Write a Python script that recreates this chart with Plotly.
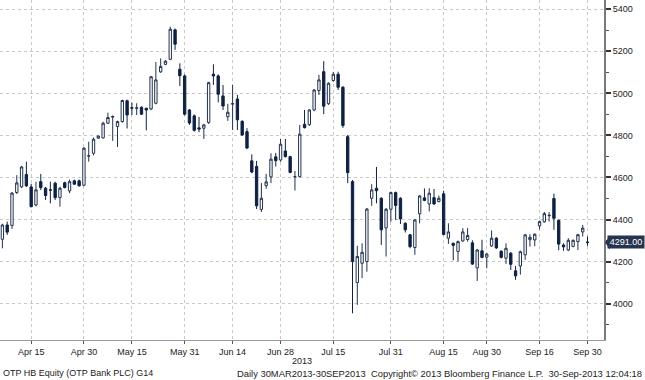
import pandas as pd
import plotly.graph_objects as go

# Trading calendar (Budapest): business days minus exchange holidays
start_date = "2013-04-05"
end_date = "2013-09-30"
holidays = ["2013-05-01", "2013-05-20", "2013-08-19", "2013-08-20"]
dates = [d.strftime("%Y-%m-%d") for d in pd.bdate_range(start_date, end_date)
         if d.strftime("%Y-%m-%d") not in holidays]

opens = [4306, 4374, 4372, 4528, 4555, 4614, 4555, 4469, 4580, 4549,
         4541, 4573, 4504, 4575, 4536, 4584, 4584, 4563, 4702, 4715,
         4787, 4788, 4858, 4887, 4842, 4866, 4965, 4932, 4929, 4934,
         4929, 4926, 4953, 5102, 5138, 5162, 5302, 5115, 5083, 4921,
         4893, 4836, 4834, 4861, 5091, 5083, 4988, 4889, 4949, 4973,
         4867, 4818, 4679, 4652, 4448, 4561, 4603, 4698, 4683, 4726,
         4699, 4603, 4604, 4853, 4851, 4921, 5013, 5103, 4951, 5061,
         5091, 5029, 4794, 4580, 4100, 4192, 4200, 4501, 4549, 4501,
         4360, 4449, 4528, 4501, 4382, 4327, 4267, 4427, 4503, 4474,
         4504, 4485, 4522, 4311, 4287, 4248, 4298, 4305, 4289, 4170,
         4251, 4221, 4274, 4311, 4249, 4216, 4240, 4156, 4179, 4232,
         4304, 4303, 4370, 4389, 4418, 4500, 4396, 4279, 4255, 4272,
         4295, 4341, 4293]
highs = [4380, 4390, 4530, 4611, 4655, 4675, 4570, 4579, 4617, 4555,
         4580, 4580, 4556, 4580, 4590, 4590, 4590, 4745, 4770, 4790,
         4800, 4865, 4908, 4895, 4870, 4970, 4970, 4956, 4953, 4938,
         4932, 5083, 5149, 5166, 5158, 5317, 5308, 5143, 5090, 4925,
         4900, 4888, 4855, 5055, 5138, 5090, 5040, 4950, 5040, 4993,
         4872, 4834, 4710, 4679, 4574, 4617, 4715, 4717, 4783, 4783,
         4703, 4631, 4850, 4921, 4925, 5020, 5088, 5153, 5052, 5102,
         5103, 5035, 4802, 4588, 4275, 4287, 4455, 4568, 4650, 4506,
         4455, 4533, 4533, 4506, 4387, 4332, 4402, 4517, 4548, 4549,
         4545, 4514, 4537, 4382, 4290, 4300, 4359, 4359, 4301, 4260,
         4304, 4240, 4348, 4316, 4254, 4287, 4245, 4179, 4252, 4332,
         4330, 4334, 4395, 4436, 4435, 4523, 4400, 4287, 4311, 4305,
         4332, 4374, 4319]
lows = [4263, 4327, 4355, 4522, 4550, 4555, 4458, 4462, 4540, 4493,
        4477, 4493, 4461, 4548, 4525, 4565, 4558, 4558, 4675, 4705,
        4783, 4785, 4855, 4774, 4745, 4860, 4833, 4897, 4897, 4897,
        4824, 4920, 4948, 5098, 5134, 5158, 5207, 5035, 4895, 4850,
        4818, 4815, 4783, 4855, 5040, 4957, 4921, 4869, 4826, 4826,
        4798, 4735, 4620, 4450, 4436, 4546, 4573, 4652, 4675, 4695,
        4620, 4538, 4600, 4833, 4845, 4915, 4992, 4901, 4945, 5055,
        5016, 4836, 4573, 3954, 3994, 4121, 4152, 4465, 4477, 4279,
        4224, 4389, 4398, 4379, 4338, 4263, 4232, 4382, 4487, 4438,
        4470, 4482, 4325, 4284, 4206, 4201, 4294, 4295, 4184, 4108,
        4216, 4168, 4270, 4260, 4215, 4189, 4160, 4113, 4138, 4208,
        4271, 4273, 4352, 4385, 4390, 4351, 4254, 4251, 4250, 4268,
        4255, 4319, 4275]
closes = [4374, 4340, 4526, 4574, 4650, 4560, 4461, 4541, 4552, 4514,
          4540, 4504, 4549, 4552, 4580, 4568, 4560, 4739, 4703, 4782,
          4797, 4858, 4885, 4890, 4866, 4966, 4897, 4930, 4931, 4901,
          4921, 5079, 5064, 5128, 5153, 5305, 5234, 5084, 4901, 4859,
          4824, 4830, 4850, 5051, 5083, 4996, 4940, 4910, 4951, 4874,
          4802, 4740, 4626, 4465, 4501, 4579, 4687, 4680, 4758, 4699,
          4624, 4604, 4806, 4837, 4921, 5016, 5064, 4939, 5048, 5091,
          5029, 4847, 4623, 4200, 4224, 4244, 4450, 4541, 4537, 4351,
          4449, 4528, 4467, 4403, 4351, 4271, 4398, 4512, 4491, 4525,
          4474, 4501, 4329, 4341, 4277, 4295, 4341, 4324, 4188, 4255,
          4220, 4236, 4311, 4265, 4220, 4263, 4187, 4132, 4247, 4327,
          4315, 4330, 4390, 4428, 4420, 4406, 4283, 4270, 4301, 4301,
          4328, 4359, 4291]

tick_dates = ["2013-04-15", "2013-04-30", "2013-05-15", "2013-05-31",
              "2013-06-14", "2013-06-28", "2013-07-15", "2013-07-31",
              "2013-08-15", "2013-08-30", "2013-09-16", "2013-09-30"]
tick_text = ["Apr 15", "Apr 30", "May 15", "May 31", "Jun 14", "Jun 28",
             "Jul 15", "Jul 31", "Aug 15", "Aug 30", "Sep 16", "Sep 30"]

year_label = "2013"
security_text = "OTP HB Equity (OTP Bank PLC) G14"
footer_text = ("Daily 30MAR2013-30SEP2013  Copyright\u00a9 2013 Bloomberg Finance L.P.  "
               "30-Sep-2013 12:04:18")

NAVY = "#0f2142"
EDGE = "#22324f"
FONT = "Liberation Sans, Arial, sans-serif"
TXT = "#222222"
TAG = "#26354f"

fig = go.Figure()
fig.add_trace(go.Candlestick(
    x=dates, open=opens, high=highs, low=lows, close=closes,
    increasing=dict(fillcolor="#ffffff", line=dict(color=EDGE, width=1)),
    decreasing=dict(fillcolor=NAVY, line=dict(color=NAVY, width=1)),
    whiskerwidth=0, showlegend=False, hoverinfo="skip",
))

W, H = 645, 380
ML, MR, MT, MB = 0, 41, 0, 40
plot_w = W - ML - MR
plot_h = H - MT - MB

fig.update_layout(
    width=W, height=H, autosize=False,
    margin=dict(l=ML, r=MR, t=MT, b=MB, pad=0, autoexpand=False),
    paper_bgcolor="#ffffff", plot_bgcolor="#ffffff",
    font=dict(family=FONT, size=9, color=TXT),
    showlegend=False,
)
fig.update_xaxes(
    type="category", categoryorder="array", categoryarray=dates,
    range=[-0.5, 125.44], automargin=False,
    rangeslider=dict(visible=False),
    tickmode="array", tickvals=tick_dates, ticktext=tick_text,
    showgrid=True, gridcolor="#c8c8c8", griddash="dot", gridwidth=1,
    ticks="outside", ticklen=3, tickcolor="#555555",
    showline=True, linecolor="#9a9a9a", linewidth=1,
    tickfont=dict(family=FONT, size=9, color=TXT),
    zeroline=False,
)
fig.update_yaxes(
    side="right", range=[3827, 5444], automargin=False,
    tick0=4000, dtick=200,
    showgrid=True, gridcolor="#c8c8c8", griddash="dot", gridwidth=1,
    ticks="outside", ticklen=5, tickwidth=2, tickcolor="#333333",
    minor=dict(dtick=100, ticks="outside", ticklen=3, tickwidth=1,
               tickcolor="#555555", showgrid=False),
    showline=True, linecolor="#7a7a7a", linewidth=2, mirror=False,
    tickfont=dict(family=FONT, size=9, color=TXT),
    zeroline=False,
)

# year label and footer
fig.add_annotation(xref="paper", yref="paper", x=0.5, y=-21 / plot_h,
                   text=year_label, showarrow=False, xanchor="center",
                   yanchor="middle", font=dict(family=FONT, size=9, color=TXT))
fig.add_annotation(xref="paper", yref="paper", x=1 / plot_w, y=-33 / plot_h,
                   text=security_text, showarrow=False, xanchor="left",
                   yanchor="middle", font=dict(family=FONT, size=9, color=TXT))
fig.add_annotation(xref="paper", yref="paper", x=(W - ML - 1) / plot_w, y=-33 / plot_h,
                   text=footer_text, showarrow=False, xanchor="right",
                   yanchor="middle", font=dict(family=FONT, size=9.4, color=TXT))

# last price tag
last = closes[-1]
units_per_px = (5444 - 3827) / plot_h
tip = 1 + 1 / plot_w
base = 1 + 6 / plot_w
half = 7 * units_per_px
fig.add_shape(type="path", xref="paper", yref="y",
              path=f"M {tip},{last} L {base},{last + half} L {base},{last - half} Z",
              fillcolor=TAG, line=dict(width=0), layer="above")
fig.add_annotation(xref="paper", yref="y", x=(W - ML) / plot_w, y=last,
                   text=f"{last:.2f}", showarrow=False, xanchor="right",
                   yanchor="middle", bgcolor=TAG, borderpad=1, width=34,
                   align="center",
                   font=dict(family=FONT, size=9, color="#ffffff"))

fig.write_html(
    "out.html",
    config={"displayModeBar": False},
    post_script="document.body.style.margin='0';document.body.style.overflow='hidden';",
)
